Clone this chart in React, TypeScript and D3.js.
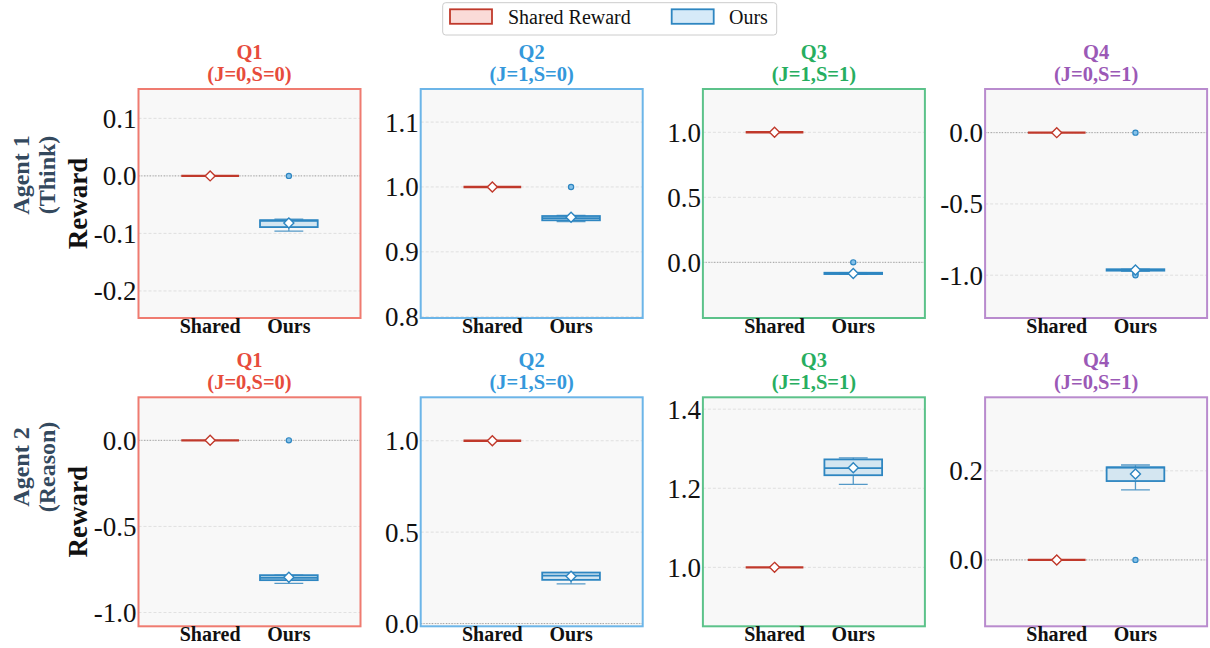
import React from "react";
import * as d3 from "d3";

// ---------------- data ----------------
const quadrants = ["Q1", "Q2", "Q3", "Q4"];
const conditions = ["(J=0,S=0)", "(J=1,S=0)", "(J=1,S=1)", "(J=0,S=1)"];
const agentNames = ["Agent 1", "Agent 2"];
const agentRoles = ["(Think)", "(Reason)"];
const methods = ["Shared", "Ours"];
const legendLabels = ["Shared Reward", "Ours"];

// Shared reward (constant) per panel, row-major: agent1 Q1..Q4, agent2 Q1..Q4
const sharedValues = [0, 1, 1, 0, 0, 1, 1, 0];

// Ours box statistics per panel
const oursWhisLo = [-0.096, 0.9466, -0.092, -0.972, -0.831, 0.217, 1.21, 0.157];
const oursQ1 = [-0.089, 0.9486, -0.09, -0.968, -0.812, 0.239, 1.233, 0.177];
const oursMedian = [-0.078, 0.952, -0.085, -0.963, -0.798, 0.262, 1.251, 0.207];
const oursQ3 = [-0.077, 0.9552, -0.08, -0.958, -0.783, 0.279, 1.273, 0.208];
const oursWhisHi = [-0.075, 0.956, -0.079, -0.958, -0.783, 0.279, 1.277, 0.213];
const oursMean = [-0.082, 0.9532, -0.085, -0.963, -0.795, 0.259, 1.252, 0.193];
const oursOutliers = [[0.0], [1.0], [0.0], [0.0, -0.99, -1.0], [0.0], [], [], [0.0]];

// y-axis limits and ticks per panel
const yDomains: [number, number][] = [
  [-0.247, 0.151],
  [0.798, 1.151],
  [-0.428, 1.333],
  [-1.3, 0.306],
  [-1.08, 0.25],
  [-0.015, 1.2375],
  [0.851, 1.43],
  [-0.149, 0.365],
];
const yTicks = [
  [-0.2, -0.1, 0.0, 0.1],
  [0.8, 0.9, 1.0, 1.1],
  [0.0, 0.5, 1.0],
  [-1.0, -0.5, 0.0],
  [-1.0, -0.5, 0.0],
  [0.0, 0.5, 1.0],
  [1.0, 1.2, 1.4],
  [0.0, 0.2],
];

// ---------------- style ----------------
const titleColors = ["#e74c3c", "#3498db", "#27ae60", "#9b59b6"];
const frameColors = ["#ef7b70", "#6cb5e8", "#5cc28a", "#b98bce"];
const SERIF = "'Liberation Serif', 'Times New Roman', serif";
const redDark = "#c0392b";
const blueDark = "#2e86c1";
const blueFill = "#d4e6f1";
const redFill = "#fadbd8";

const W = 1210;
const H = 648;
const panelLeft0 = 138.5;
const panelStep = 282.2;
const panelW = 222;
const panelH = 229;
const rowTops = [89, 397.3];
const agentCenters = [175, 467];

function fmt(v: number) {
  const s = v.toFixed(1);
  return s === "-0.0" ? "0.0" : s;
}

type BoxStats = {
  lo: number;
  q1: number;
  med: number;
  q3: number;
  hi: number;
  mean: number;
  outliers: number[];
};

function Diamond({ cx, cy, r, stroke }: { cx: number; cy: number; r: number; stroke: string }) {
  const d = `M${cx},${cy - r}L${cx + r},${cy}L${cx},${cy + r}L${cx - r},${cy}Z`;
  return <path d={d} fill="#ffffff" stroke={stroke} strokeWidth={1.4} />;
}

function Panel({ idx }: { idx: number }) {
  const row = Math.floor(idx / 4);
  const col = idx % 4;
  const x0 = panelLeft0 + col * panelStep;
  const y0 = rowTops[row];
  const x = d3.scaleLinear().domain([-0.91, 1.91]).range([x0, x0 + panelW]);
  const y = d3.scaleLinear().domain(yDomains[idx]).range([y0 + panelH, y0]);
  const boxW = 0.733;
  const halfPx = (x(boxW) - x(0)) / 2;
  const capHalf = halfPx / 2;

  const ours: BoxStats = {
    lo: oursWhisLo[idx],
    q1: oursQ1[idx],
    med: oursMedian[idx],
    q3: oursQ3[idx],
    hi: oursWhisHi[idx],
    mean: oursMean[idx],
    outliers: oursOutliers[idx],
  };
  const sv = sharedValues[idx];
  const clipId = `clip${idx}`;
  const xs = x(0);
  const xo = x(1);

  return (
    <g>
      <defs>
        <clipPath id={clipId}>
          <rect x={x0} y={y0} width={panelW} height={panelH} />
        </clipPath>
      </defs>
      <rect x={x0} y={y0} width={panelW} height={panelH} fill="#f8f8f8" />
      <g clipPath={`url(#${clipId})`}>
        {yTicks[idx].map((t) => (
          <line
            key={t}
            x1={x0}
            x2={x0 + panelW}
            y1={y(t)}
            y2={y(t)}
            stroke="#d9d9d9"
            strokeWidth={0.8}
            strokeDasharray="3,2"
          />
        ))}
        {yDomains[idx][0] < 0 && yDomains[idx][1] > 0 ? (
          <line
            x1={x0}
            x2={x0 + panelW}
            y1={y(0)}
            y2={y(0)}
            stroke="#9a9a9a"
            strokeWidth={0.9}
            strokeDasharray="1.2,1.6"
          />
        ) : null}
        {/* Shared: collapsed box */}
        <line x1={xs - halfPx} x2={xs + halfPx} y1={y(sv)} y2={y(sv)} stroke={redDark} strokeWidth={2.4} />
        <Diamond cx={xs} cy={y(sv)} r={5} stroke={redDark} />
        {/* Ours box */}
        <line x1={xo} x2={xo} y1={y(ours.q1)} y2={y(ours.lo)} stroke="#5499c7" strokeWidth={1.3} />
        <line x1={xo} x2={xo} y1={y(ours.q3)} y2={y(ours.hi)} stroke="#5499c7" strokeWidth={1.3} />
        <line x1={xo - capHalf} x2={xo + capHalf} y1={y(ours.lo)} y2={y(ours.lo)} stroke="#5499c7" strokeWidth={1.3} />
        <line x1={xo - capHalf} x2={xo + capHalf} y1={y(ours.hi)} y2={y(ours.hi)} stroke="#5499c7" strokeWidth={1.3} />
        <rect
          x={xo - halfPx}
          y={y(ours.q3)}
          width={2 * halfPx}
          height={Math.max(0.5, y(ours.q1) - y(ours.q3))}
          fill={blueFill}
          stroke={blueDark}
          strokeWidth={1.8}
        />
        <line x1={xo - halfPx} x2={xo + halfPx} y1={y(ours.med)} y2={y(ours.med)} stroke={blueDark} strokeWidth={1.8} />
        {ours.outliers.map((o, i) => (
          <circle key={i} cx={xo} cy={y(o)} r={2.6} fill="#85c1e9" stroke={blueDark} strokeWidth={1.2} />
        ))}
        <Diamond cx={xo} cy={y(ours.mean)} r={5} stroke={blueDark} />
      </g>
      <rect
        x={x0}
        y={y0}
        width={panelW}
        height={panelH}
        fill="none"
        stroke={frameColors[col]}
        strokeWidth={2}
      />
      {/* y tick labels */}
      {yTicks[idx].map((t) => (
        <text
          key={t}
          x={x0 - 2}
          y={y(t)}
          dy="0.35em"
          textAnchor="end"
          fontFamily={SERIF}
          fontSize={27}
          fill="#111"
        >
          {fmt(t)}
        </text>
      ))}
      {/* x tick labels */}
      {methods.map((m, i) => (
        <text
          key={m}
          x={x(i)}
          y={y0 + panelH + 14.5}
          textAnchor="middle"
          fontFamily={SERIF}
          fontWeight="bold"
          fontSize={20}
          fill="#111"
        >
          {m}
        </text>
      ))}
      {/* title */}
      <text
        x={x0 + panelW / 2}
        y={y0 - 30.5}
        textAnchor="middle"
        fontFamily={SERIF}
        fontWeight="bold"
        fontSize={20.5}
        fill={titleColors[col]}
      >
        {quadrants[col]}
      </text>
      <text
        x={x0 + panelW / 2}
        y={y0 - 8.5}
        textAnchor="middle"
        fontFamily={SERIF}
        fontWeight="bold"
        fontSize={20.5}
        fill={titleColors[col]}
      >
        {conditions[col]}
      </text>
    </g>
  );
}

function Legend() {
  const bx = 442.7;
  const by = 2.7;
  const bw = 334;
  const bh = 32.3;
  const patches = [
    { x: 450, fill: redFill, stroke: redDark, tx: 508 },
    { x: 671.7, fill: "#d6eaf8", stroke: blueDark, tx: 729 },
  ];
  return (
    <g>
      <rect x={bx} y={by} width={bw} height={bh} rx={3} fill="#ffffff" stroke="#cccccc" strokeWidth={1} />
      {patches.map((p, i) => (
        <g key={i}>
          <rect x={p.x} y={9.3} width={42} height={14.5} fill={p.fill} stroke={p.stroke} strokeWidth={1.8} />
          <text x={p.tx} y={24} fontFamily={SERIF} fontSize={20} fill="#111">
            {legendLabels[i]}
          </text>
        </g>
      ))}
    </g>
  );
}

export default function App() {
  const panels = d3.range(8);
  return (
    <svg width={W} height={H} style={{ position: "absolute", left: 0, top: 0, background: "#ffffff" }}>
      <rect x={0} y={0} width={W} height={H} fill="#ffffff" />
      {panels.map((i) => (
        <Panel key={i} idx={i} />
      ))}
      {rowTops.map((t, r) => {
        const cy = t + panelH / 2;
        const ay = agentCenters[r];
        return (
          <g key={r}>
            <text
              transform={`translate(78,${cy}) rotate(-90)`}
              dy="0.35em"
              textAnchor="middle"
              fontFamily={SERIF}
              fontWeight="bold"
              fontSize={27}
              fill="#111"
            >
              Reward
            </text>
            <text
              transform={`translate(28.5,${ay}) rotate(-90)`}
              textAnchor="middle"
              fontFamily={SERIF}
              fontWeight="bold"
              fontSize={24}
              fill="#34495e"
            >
              {agentNames[r]}
            </text>
            <text
              transform={`translate(54.5,${ay}) rotate(-90)`}
              textAnchor="middle"
              fontFamily={SERIF}
              fontWeight="bold"
              fontSize={24}
              fill="#34495e"
            >
              {agentRoles[r]}
            </text>
          </g>
        );
      })}
      <Legend />
    </svg>
  );
}
